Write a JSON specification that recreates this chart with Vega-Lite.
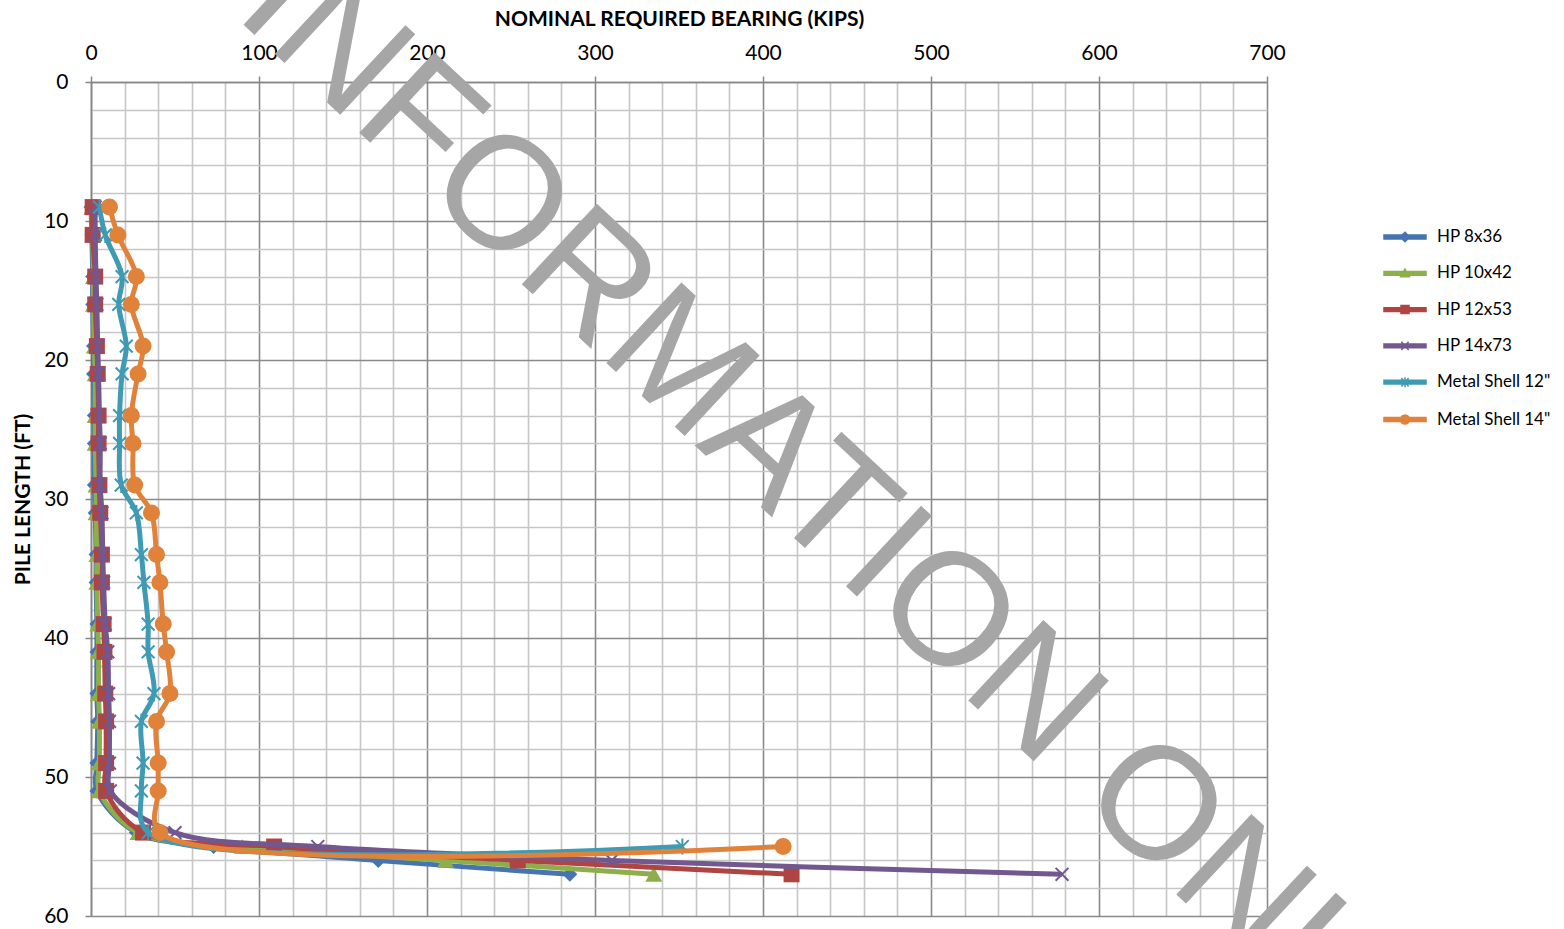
{
  "$schema": "https://vega.github.io/schema/vega-lite/v6.json",
  "width": 1176,
  "height": 834,
  "autosize": {"type": "none"},
  "padding": {"left": 91, "top": 82, "right": 297, "bottom": 13},
  "background": "white",
  "config": {"view": {"stroke": null}, "font": "Lato"},
  "data": {
    "values": [
      {"s": "HP 8x36", "d": 9, "v": 0}, {"s": "HP 8x36", "d": 11, "v": 0.5}, {"s": "HP 8x36", "d": 14, "v": 1}, {"s": "HP 8x36", "d": 16, "v": 1},
      {"s": "HP 8x36", "d": 19, "v": 1.5}, {"s": "HP 8x36", "d": 21, "v": 1.5}, {"s": "HP 8x36", "d": 24, "v": 2}, {"s": "HP 8x36", "d": 26, "v": 2},
      {"s": "HP 8x36", "d": 29, "v": 2}, {"s": "HP 8x36", "d": 31, "v": 2.5}, {"s": "HP 8x36", "d": 34, "v": 3}, {"s": "HP 8x36", "d": 36, "v": 3},
      {"s": "HP 8x36", "d": 39, "v": 3.5}, {"s": "HP 8x36", "d": 41, "v": 3.5}, {"s": "HP 8x36", "d": 44, "v": 3.5}, {"s": "HP 8x36", "d": 46, "v": 4},
      {"s": "HP 8x36", "d": 49, "v": 3.5}, {"s": "HP 8x36", "d": 51, "v": 3.5}, {"s": "HP 8x36", "d": 54, "v": 27}, {"s": "HP 8x36", "d": 55, "v": 73},
      {"s": "HP 8x36", "d": 56, "v": 171}, {"s": "HP 8x36", "d": 57, "v": 285},

      {"s": "HP 10x42", "d": 9, "v": 0.5}, {"s": "HP 10x42", "d": 11, "v": 1}, {"s": "HP 10x42", "d": 14, "v": 1.5}, {"s": "HP 10x42", "d": 16, "v": 1.5},
      {"s": "HP 10x42", "d": 19, "v": 2}, {"s": "HP 10x42", "d": 21, "v": 2.5}, {"s": "HP 10x42", "d": 24, "v": 2.5}, {"s": "HP 10x42", "d": 26, "v": 2.5},
      {"s": "HP 10x42", "d": 29, "v": 3}, {"s": "HP 10x42", "d": 31, "v": 3}, {"s": "HP 10x42", "d": 34, "v": 3.5}, {"s": "HP 10x42", "d": 36, "v": 3.5},
      {"s": "HP 10x42", "d": 39, "v": 4}, {"s": "HP 10x42", "d": 41, "v": 4.5}, {"s": "HP 10x42", "d": 44, "v": 4.5}, {"s": "HP 10x42", "d": 46, "v": 5},
      {"s": "HP 10x42", "d": 49, "v": 5}, {"s": "HP 10x42", "d": 51, "v": 5}, {"s": "HP 10x42", "d": 54, "v": 28}, {"s": "HP 10x42", "d": 55, "v": 90},
      {"s": "HP 10x42", "d": 56, "v": 211}, {"s": "HP 10x42", "d": 57, "v": 335},

      {"s": "HP 12x53", "d": 9, "v": 1}, {"s": "HP 12x53", "d": 11, "v": 1}, {"s": "HP 12x53", "d": 14, "v": 2.5}, {"s": "HP 12x53", "d": 16, "v": 2.5},
      {"s": "HP 12x53", "d": 19, "v": 3.5}, {"s": "HP 12x53", "d": 21, "v": 4}, {"s": "HP 12x53", "d": 24, "v": 4.5}, {"s": "HP 12x53", "d": 26, "v": 4.5},
      {"s": "HP 12x53", "d": 29, "v": 5}, {"s": "HP 12x53", "d": 31, "v": 5.5}, {"s": "HP 12x53", "d": 34, "v": 6.5}, {"s": "HP 12x53", "d": 36, "v": 6.5},
      {"s": "HP 12x53", "d": 39, "v": 7.5}, {"s": "HP 12x53", "d": 41, "v": 8}, {"s": "HP 12x53", "d": 44, "v": 8.5}, {"s": "HP 12x53", "d": 46, "v": 9},
      {"s": "HP 12x53", "d": 49, "v": 9}, {"s": "HP 12x53", "d": 51, "v": 9}, {"s": "HP 12x53", "d": 54, "v": 31}, {"s": "HP 12x53", "d": 55, "v": 109},
      {"s": "HP 12x53", "d": 56, "v": 254}, {"s": "HP 12x53", "d": 57, "v": 417},

      {"s": "HP 14x73", "d": 9, "v": 2.5}, {"s": "HP 14x73", "d": 11, "v": 2.5}, {"s": "HP 14x73", "d": 14, "v": 3}, {"s": "HP 14x73", "d": 16, "v": 3.5},
      {"s": "HP 14x73", "d": 19, "v": 4}, {"s": "HP 14x73", "d": 21, "v": 4.5}, {"s": "HP 14x73", "d": 24, "v": 5}, {"s": "HP 14x73", "d": 26, "v": 5.5},
      {"s": "HP 14x73", "d": 29, "v": 5.5}, {"s": "HP 14x73", "d": 31, "v": 6.5}, {"s": "HP 14x73", "d": 34, "v": 7}, {"s": "HP 14x73", "d": 36, "v": 7.5},
      {"s": "HP 14x73", "d": 39, "v": 8.5}, {"s": "HP 14x73", "d": 41, "v": 10}, {"s": "HP 14x73", "d": 44, "v": 10.5}, {"s": "HP 14x73", "d": 46, "v": 11},
      {"s": "HP 14x73", "d": 49, "v": 11}, {"s": "HP 14x73", "d": 51, "v": 11.5}, {"s": "HP 14x73", "d": 54, "v": 50}, {"s": "HP 14x73", "d": 55, "v": 135},
      {"s": "HP 14x73", "d": 56, "v": 310}, {"s": "HP 14x73", "d": 57, "v": 578},

      {"s": "Metal Shell 12\"", "d": 9, "v": 5}, {"s": "Metal Shell 12\"", "d": 11, "v": 8.5}, {"s": "Metal Shell 12\"", "d": 14, "v": 18.5}, {"s": "Metal Shell 12\"", "d": 16, "v": 16.5},
      {"s": "Metal Shell 12\"", "d": 19, "v": 21}, {"s": "Metal Shell 12\"", "d": 21, "v": 18.5}, {"s": "Metal Shell 12\"", "d": 24, "v": 17}, {"s": "Metal Shell 12\"", "d": 26, "v": 17},
      {"s": "Metal Shell 12\"", "d": 29, "v": 18}, {"s": "Metal Shell 12\"", "d": 31, "v": 27}, {"s": "Metal Shell 12\"", "d": 34, "v": 30}, {"s": "Metal Shell 12\"", "d": 36, "v": 31.5},
      {"s": "Metal Shell 12\"", "d": 39, "v": 34}, {"s": "Metal Shell 12\"", "d": 41, "v": 34}, {"s": "Metal Shell 12\"", "d": 44, "v": 37.5}, {"s": "Metal Shell 12\"", "d": 46, "v": 30},
      {"s": "Metal Shell 12\"", "d": 49, "v": 31}, {"s": "Metal Shell 12\"", "d": 51, "v": 30}, {"s": "Metal Shell 12\"", "d": 54, "v": 34}, {"s": "Metal Shell 12\"", "d": 55, "v": 352},

      {"s": "Metal Shell 14\"", "d": 9, "v": 11}, {"s": "Metal Shell 14\"", "d": 11, "v": 16}, {"s": "Metal Shell 14\"", "d": 14, "v": 27}, {"s": "Metal Shell 14\"", "d": 16, "v": 24},
      {"s": "Metal Shell 14\"", "d": 19, "v": 31}, {"s": "Metal Shell 14\"", "d": 21, "v": 28}, {"s": "Metal Shell 14\"", "d": 24, "v": 24}, {"s": "Metal Shell 14\"", "d": 26, "v": 25},
      {"s": "Metal Shell 14\"", "d": 29, "v": 26}, {"s": "Metal Shell 14\"", "d": 31, "v": 36}, {"s": "Metal Shell 14\"", "d": 34, "v": 39}, {"s": "Metal Shell 14\"", "d": 36, "v": 41},
      {"s": "Metal Shell 14\"", "d": 39, "v": 43}, {"s": "Metal Shell 14\"", "d": 41, "v": 45}, {"s": "Metal Shell 14\"", "d": 44, "v": 47}, {"s": "Metal Shell 14\"", "d": 46, "v": 39},
      {"s": "Metal Shell 14\"", "d": 49, "v": 40}, {"s": "Metal Shell 14\"", "d": 51, "v": 40}, {"s": "Metal Shell 14\"", "d": 54, "v": 41}, {"s": "Metal Shell 14\"", "d": 55, "v": 412}
    ]
  },
  "encoding": {
    "x": {
      "field": "v", "type": "quantitative",
      "scale": {"domain": [0, 700], "nice": false, "zero": false},
      "axis": {
        "orient": "top",
        "title": "NOMINAL REQUIRED BEARING (KIPS)",
        "titleFont": "Lato", "titleFontSize": 21, "titleFontWeight": "bold", "titleColor": "#000000", "titlePadding": 13,
        "values": [0, 20, 40, 60, 80, 100, 120, 140, 160, 180, 200, 220, 240, 260, 280, 300, 320, 340, 360, 380, 400, 420, 440, 460, 480, 500, 520, 540, 560, 580, 600, 620, 640, 660, 680, 700],
        "labelExpr": "datum.value % 100 === 0 ? datum.label : ''",
        "labelFont": "Lato", "labelFontSize": 21, "labelColor": "#000000", "labelPadding": 13, "labelFlush": false, "labelOverlap": false,
        "tickSize": 6, "tickColor": "#868686", "tickWidth": 1.5,
        "tickOpacity": {"condition": {"test": "datum.value % 100 === 0", "value": 1}, "value": 0},
        "grid": true,
        "gridColor": {"condition": {"test": "datum.value % 100 === 0", "value": "#8a8a8a"}, "value": "#c6c6c6"},
        "gridWidth": 1.6,
        "domainColor": "#868686", "domainWidth": 1.6
      }
    },
    "y": {
      "field": "d", "type": "quantitative",
      "scale": {"domain": [0, 60], "reverse": true, "nice": false, "zero": false},
      "axis": {
        "orient": "left",
        "title": "PILE LENGTH (FT)",
        "titleFont": "Lato", "titleFontSize": 21, "titleFontWeight": "bold", "titleColor": "#000000", "titlePadding": 10,
        "values": [0, 2, 4, 6, 8, 10, 12, 14, 16, 18, 20, 22, 24, 26, 28, 30, 32, 34, 36, 38, 40, 42, 44, 46, 48, 50, 52, 54, 56, 58, 60],
        "labelExpr": "datum.value % 10 === 0 ? datum.label : ''",
        "labelFont": "Lato", "labelFontSize": 21, "labelColor": "#000000", "labelPadding": 17, "labelFlush": false, "labelOverlap": false,
        "tickSize": 6, "tickColor": "#868686", "tickWidth": 1.5,
        "tickOpacity": {"condition": {"test": "datum.value % 10 === 0", "value": 1}, "value": 0},
        "grid": true,
        "gridColor": {"condition": {"test": "datum.value % 10 === 0", "value": "#8a8a8a"}, "value": "#c6c6c6"},
        "gridWidth": 1.6,
        "domainColor": "#868686", "domainWidth": 1.6
      }
    }
  },
  "layer": [
    {"transform": [{"filter": {"field": "s", "equal": "HP 8x36"}}], "mark": {"type": "line", "color": "#4674B0", "strokeWidth": 5, "interpolate": "catmull-rom"}, "encoding": {"order": {"field": "d", "type": "quantitative"}}},
    {"transform": [{"filter": {"field": "s", "equal": "HP 8x36"}}], "mark": {"type": "point", "shape": "diamond", "filled": true, "color": "#4674B0", "size": 225, "opacity": 1}},

    {"transform": [{"filter": {"field": "s", "equal": "HP 10x42"}}], "mark": {"type": "line", "color": "#8CAF4B", "strokeWidth": 5, "interpolate": "catmull-rom"}, "encoding": {"order": {"field": "d", "type": "quantitative"}}},
    {"transform": [{"filter": {"field": "s", "equal": "HP 10x42"}}], "mark": {"type": "point", "shape": "triangle-up", "filled": true, "color": "#8CAF4B", "size": 289, "opacity": 1}},

    {"transform": [{"filter": {"field": "s", "equal": "HP 12x53"}}], "mark": {"type": "line", "color": "#AF4542", "strokeWidth": 5, "interpolate": "catmull-rom"}, "encoding": {"order": {"field": "d", "type": "quantitative"}}},
    {"transform": [{"filter": {"field": "s", "equal": "HP 12x53"}}], "mark": {"type": "point", "shape": "square", "filled": true, "color": "#AF4542", "size": 256, "opacity": 1}},

    {"transform": [{"filter": {"field": "s", "equal": "HP 14x73"}}], "mark": {"type": "line", "color": "#72588F", "strokeWidth": 5, "interpolate": "catmull-rom"}, "encoding": {"order": {"field": "d", "type": "quantitative"}}},
    {"transform": [{"filter": {"field": "s", "equal": "HP 14x73"}}], "mark": {"type": "point", "shape": "M-0.8,-0.8L0.8,0.8M-0.8,0.8L0.8,-0.8", "filled": false, "color": "#72588F", "size": 256, "strokeWidth": 2, "opacity": 1}},

    {"transform": [{"filter": {"field": "s", "equal": "Metal Shell 12\""}}], "mark": {"type": "line", "color": "#3F9AB3", "strokeWidth": 5, "interpolate": "catmull-rom"}, "encoding": {"order": {"field": "d", "type": "quantitative"}}},
    {"transform": [{"filter": {"field": "s", "equal": "Metal Shell 12\""}}], "mark": {"type": "point", "shape": "M-0.8,-0.8L0.8,0.8M-0.8,0.8L0.8,-0.8M0,-1V1", "filled": false, "color": "#3F9AB3", "size": 256, "strokeWidth": 2, "opacity": 1}},

    {"transform": [{"filter": {"field": "s", "equal": "Metal Shell 14\""}}], "mark": {"type": "line", "color": "#E0823A", "strokeWidth": 5, "interpolate": "catmull-rom"}, "encoding": {"order": {"field": "d", "type": "quantitative"}}},
    {"transform": [{"filter": {"field": "s", "equal": "Metal Shell 14\""}}], "mark": {"type": "point", "shape": "circle", "filled": true, "color": "#E0823A", "size": 289, "opacity": 1}},

    {
      "transform": [{"filter": "datum.d < 0"}],
      "mark": {"type": "point", "filled": true, "strokeWidth": 1.5, "opacity": 1},
      "encoding": {
        "fill": {
          "field": "s", "type": "nominal",
          "scale": {"domain": ["HP 8x36", "HP 10x42", "HP 12x53", "HP 14x73", "Metal Shell 12\"", "Metal Shell 14\""],
                    "range": ["#4674B0", "#8CAF4B", "#AF4542", "#72588F", "#3F9AB3", "#E0823A"]},
          "legend": {"title": null, "orient": "none", "legendX": 1292, "legendY": 133, "symbolSize": 1764, "symbolStrokeWidth": 1.5, "symbolOpacity": 1,
                     "labelFont": "Lato", "labelFontSize": 17, "labelColor": "#000000", "labelOffset": 10, "rowPadding": 6.3, "padding": 0}
        },
        "stroke": {
          "field": "s", "type": "nominal",
          "scale": {"domain": ["HP 8x36", "HP 10x42", "HP 12x53", "HP 14x73", "Metal Shell 12\"", "Metal Shell 14\""],
                    "range": ["#4674B0", "#8CAF4B", "#AF4542", "#72588F", "#3F9AB3", "#E0823A"]},
          "legend": {"title": null, "orient": "none", "legendX": 1292, "legendY": 133, "symbolSize": 1764, "symbolStrokeWidth": 1.5, "symbolOpacity": 1,
                     "labelFont": "Lato", "labelFontSize": 17, "labelColor": "#000000", "labelOffset": 10, "rowPadding": 6.3, "padding": 0}
        },
        "shape": {
          "field": "s", "type": "nominal",
          "scale": {"domain": ["HP 8x36", "HP 10x42", "HP 12x53", "HP 14x73", "Metal Shell 12\"", "Metal Shell 14\""],
                    "range": [
                      "M-1,-0.09H1V0.09H-1Z M0,-0.22L0.22,0L0,0.22L-0.22,0Z",
                      "M-1,-0.09H1V0.09H-1Z M0,-0.2L0.21,0.17L-0.21,0.17Z",
                      "M-1,-0.09H1V0.09H-1Z M-0.19,-0.19H0.19V0.19H-0.19Z",
                      "M-1,-0.09H1V0.09H-1Z M-0.17,-0.2L0.17,0.2M-0.17,0.2L0.17,-0.2",
                      "M-1,-0.09H1V0.09H-1Z M-0.17,-0.2L0.17,0.2M-0.17,0.2L0.17,-0.2M0,-0.24V0.24",
                      "M-1,-0.09H1V0.09H-1Z M0.22,0A0.22,0.22 0 1,1 -0.22,0A0.22,0.22 0 1,1 0.22,0Z"
                    ]},
          "legend": {"title": null, "orient": "none", "legendX": 1292, "legendY": 133, "symbolSize": 1764, "symbolStrokeWidth": 1.5, "symbolOpacity": 1,
                     "labelFont": "Lato", "labelFontSize": 17, "labelColor": "#000000", "labelOffset": 10, "rowPadding": 6.3, "padding": 0}
        }
      }
    },

    {
      "data": {"values": [{"t": "INFORMATION ONLY", "px": 447, "py": 31.3}]},
      "mark": {"type": "text", "angle": 43, "font": "Liberation Sans", "fontSize": 160, "fill": "#a6a6a6", "align": "center", "baseline": "middle"},
      "encoding": {
        "x": {"field": "px", "type": "quantitative"},
        "y": {"field": "py", "type": "quantitative"},
        "text": {"field": "t", "type": "nominal"}
      }
    }
  ]
}
